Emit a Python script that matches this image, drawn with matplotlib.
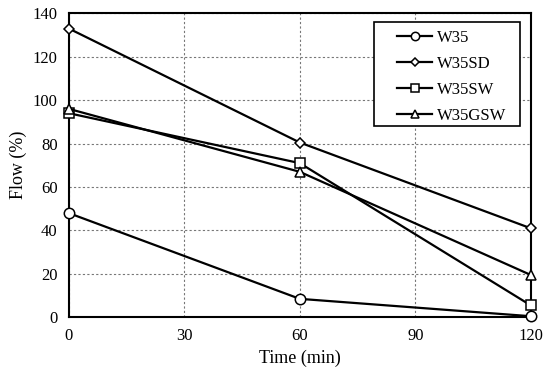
import matplotlib
matplotlib.use("Agg")
import matplotlib.pyplot as plt
from matplotlib.patches import Rectangle

plt.rcParams['font.family'] = ['Liberation Serif', 'DejaVu Serif']

time = [0, 60, 120]
w35 = [48, 8.5, 0.5]
w35sd = [133, 80.5, 41]
w35sw = [94, 71, 5.5]
w35gsw = [96, 67, 19.5]
labels = ["W35", "W35SD", "W35SW", "W35GSW"]
markers = ["o", "D", "s", "^"]
msizes = [7.5, 5.5, 6.5, 7.5]
series = [w35, w35sd, w35sw, w35gsw]

fig = plt.figure(figsize=(5.5, 3.8), dpi=100)
ax = fig.add_axes([0.125, 0.165, 0.84, 0.80])
for s, lab, m, ms in zip(series, labels, markers, msizes):
    ax.plot(time, s, color='black', lw=1.6, marker=m, ms=ms,
            mfc='white', mec='black', mew=1.1, label=lab, clip_on=False, zorder=3)

ax.set_xlim(0, 120)
ax.set_ylim(0, 140)
ax.set_xticks([0, 30, 60, 90, 120])
ax.set_yticks(range(0, 141, 20))
ax.grid(True, linestyle=(0, (2, 2)), color='#777777', lw=0.8)
ax.tick_params(length=0, labelsize=12, pad=8)
for sp in ax.spines.values():
    sp.set_linewidth(1.5)
ax.set_xlabel("Time (min)", fontsize=13)
ax.set_ylabel("Flow (%)", fontsize=13)

frame = Rectangle((0.6616, 0.630), 0.3145, 0.340, transform=ax.transAxes,
                  facecolor='white', edgecolor='black', lw=1.2, zorder=4)
ax.add_patch(frame)
leg = ax.legend(loc='upper left', fontsize=12, frameon=False, borderpad=0,
                labelspacing=0.6, handlelength=2.1, handletextpad=0.25,
                markerscale=0.8, borderaxespad=0, bbox_to_anchor=(0.7115, 0.945))
leg.set_zorder(5)
fig.savefig("out.png", dpi=100)
